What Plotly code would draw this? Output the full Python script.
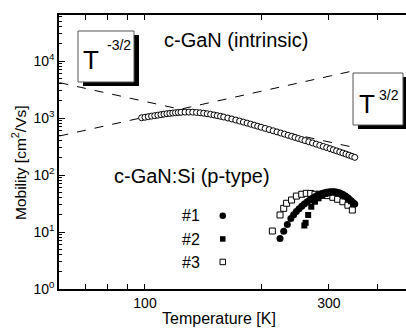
import plotly.graph_objects as go

# ---- data ----
T_int = [98, 100, 102, 104, 106, 108, 110, 112, 114, 116, 118, 120, 122, 124, 127, 130, 133, 136,
         139, 142, 145, 148, 151, 154, 157, 160, 164, 168, 172, 176, 180, 184, 188, 192, 196, 200,
         205, 210, 215, 220, 225, 230, 235, 240, 245, 250, 255, 260, 266, 272, 278, 284, 290, 296,
         302, 308, 314, 320, 326, 332, 338, 344, 350]
mu_int = [1010, 1030, 1055, 1078, 1100, 1122, 1145, 1168, 1188, 1205, 1222, 1238, 1250, 1260, 1268,
          1270, 1265, 1252, 1235, 1213, 1188, 1160, 1130, 1100, 1070, 1040, 1000, 960, 921, 884, 848,
          813, 780, 748, 718, 690, 657, 626, 597, 570, 545, 521, 498, 476, 456, 437, 419, 402, 383,
          365, 348, 332, 317, 303, 290, 277, 265, 254, 243, 233, 223, 213, 204]

T_s1 = [224, 229, 234, 239, 243, 247, 251, 255, 259, 263, 267, 271, 275, 279, 283, 287, 291, 295,
        299, 303, 307, 311, 315, 319, 323, 327, 331, 335, 339, 343, 347, 350]
mu_s1 = [7.7, 10.3, 13.6, 17.2, 20.0, 22.8, 25.5, 28.3, 31.0, 33.6, 36.2, 38.8, 41.2, 43.4, 45.4,
         47.1, 48.5, 49.6, 50.4, 50.8, 50.9, 50.6, 49.8, 48.6, 47.0, 45.0, 42.8, 40.3, 37.7, 35.0,
         32.6, 31.0]

T_s2 = [259, 261, 265, 270, 276, 282, 288, 294, 300, 306, 312, 318, 324, 330, 336, 342, 347]
mu_s2 = [13.0, 14.5, 19.9, 27.8, 34.0, 39.0, 43.0, 46.5, 48.5, 49.5, 49.0, 47.5, 45.0, 42.0, 38.5,
         34.5, 31.0]

T_s3 = [214, 224, 229, 233, 240, 247, 255, 262, 269, 276, 283, 290, 298, 307, 316, 326, 336, 345]
mu_s3 = [10.4, 19.9, 26.0, 31.9, 36.4, 42.7, 45.9, 47.7, 47.5, 45.9, 46.0, 45.9, 43.5, 40.6, 37.5,
         34.0, 29.5, 24.3]

guide_T = [60, 352]
guide_m32 = [4170, 300]
guide_p32 = [483, 6864]

x_tickvals = [100, 300]
x_ticktext = ["100", "300"]
x_minor = [70, 80, 90, 200, 400]
y_tickvals = [1, 10, 100, 1000, 10000]
y_ticktext = ["10<sup>0</sup>", "10<sup>1</sup>", "10<sup>2</sup>", "10<sup>3</sup>", "10<sup>4</sup>"]
y_minor = [m * 10 ** d for d in range(0, 5) for m in range(2, 10)]

FONT = "Arial, Liberation Sans, sans-serif"

# plot area geometry (pixels)
L, R, TOP, BOT = 59, 406, 15, 289
W, H = R - L, BOT - TOP


def px(x):
    return (x - L) / W


def py(y):
    return (BOT - y) / H


fig = go.Figure()
fig.add_trace(go.Scatter(x=guide_T, y=guide_m32, mode="lines",
                         line=dict(color="black", width=1, dash="dash"), showlegend=False))
fig.add_trace(go.Scatter(x=guide_T, y=guide_p32, mode="lines",
                         line=dict(color="black", width=1, dash="dash"), showlegend=False))
fig.add_trace(go.Scatter(x=T_int, y=mu_int, mode="markers",
                         marker=dict(symbol="circle", size=6, color="white",
                                     line=dict(color="black", width=1)), showlegend=False))
fig.add_trace(go.Scatter(x=T_s3, y=mu_s3, mode="markers",
                         marker=dict(symbol="square", size=6, color="white",
                                     line=dict(color="black", width=1)), showlegend=False))
fig.add_trace(go.Scatter(x=T_s2, y=mu_s2, mode="markers",
                         marker=dict(symbol="square", size=6, color="black",
                                     line=dict(color="black", width=0)), showlegend=False))
fig.add_trace(go.Scatter(x=T_s1, y=mu_s1, mode="markers",
                         marker=dict(symbol="circle", size=7, color="black",
                                     line=dict(color="black", width=0)), showlegend=False))

shapes = []
# T^-3/2 box with shadow
shapes.append(dict(type="rect", xref="paper", yref="paper", x0=px(83), x1=px(139), y0=py(86), y1=py(35),
                   fillcolor="black", line=dict(width=0)))
shapes.append(dict(type="rect", xref="paper", yref="paper", x0=px(78), x1=px(134), y0=py(82), y1=py(31),
                   fillcolor="white", line=dict(color="#555", width=1)))
# T^3/2 box with shadow
shapes.append(dict(type="rect", xref="paper", yref="paper", x0=px(358), x1=px(409), y0=py(129), y1=py(77),
                   fillcolor="black", line=dict(width=0)))
shapes.append(dict(type="rect", xref="paper", yref="paper", x0=px(353), x1=px(403), y0=py(125), y1=py(73),
                   fillcolor="white", line=dict(color="#555", width=1)))
# legend symbols
shapes.append(dict(type="circle", xref="paper", yref="paper", x0=px(219.5), x1=px(226), y0=py(219), y1=py(212.5),
                   fillcolor="black", line=dict(width=0)))
shapes.append(dict(type="rect", xref="paper", yref="paper", x0=px(220), x1=px(225.5), y0=py(241.7), y1=py(236.2),
                   fillcolor="black", line=dict(width=0)))
shapes.append(dict(type="rect", xref="paper", yref="paper", x0=px(220), x1=px(225.5), y0=py(264.7), y1=py(259.2),
                   fillcolor="white", line=dict(color="black", width=1)))

annotations = []


def ann(text, x, y, size, xanchor="center"):
    annotations.append(dict(text=text, xref="paper", yref="paper", x=px(x), y=py(y),
                            xanchor=xanchor, yanchor="middle", showarrow=False,
                            font=dict(family=FONT, size=size, color="black")))


ann("c-GaN (intrinsic)", 162, 40, 20, "left")
ann("c-GaN:Si (p-type)", 112, 176, 20, "left")
ann("T", 91, 60, 26)
ann("-3/2", 119, 45, 14)
ann("T", 366.5, 104, 26)
ann("3/2", 388.5, 95, 14)
ann("#1", 191, 216, 16)
ann("#2", 191, 239, 16)
ann("#3", 191, 262, 16)
ann("Temperature [K]", 219, 318, 16)
annotations.append(dict(text="Mobility [cm<sup>2</sup>/Vs]", xref="paper", yref="paper",
                        x=px(19), y=py(163), xanchor="center", yanchor="middle", textangle=-90,
                        showarrow=False, font=dict(family=FONT, size=15.5, color="black")))

fig.update_layout(
    width=406, height=331,
    margin=dict(l=L, r=406 - R, t=TOP, b=331 - BOT),
    paper_bgcolor="white", plot_bgcolor="white",
    font=dict(family=FONT, size=14, color="black"),
    shapes=shapes, annotations=annotations,
    xaxis=dict(type="log", range=[1.777, 2.677], showgrid=False, zeroline=False,
               showline=True, linecolor="black", linewidth=1.5, mirror="ticks",
               ticks="inside", ticklen=5, tickwidth=1.2, tickcolor="black",
               tickmode="array", tickvals=x_tickvals, ticktext=x_ticktext,
               tickfont=dict(family=FONT, size=14),
               minor=dict(ticks="inside", ticklen=5, tickwidth=1.2, tickcolor="black",
                          tickmode="array", tickvals=x_minor)),
    yaxis=dict(type="log", range=[0, 4.807], showgrid=False, zeroline=False,
               showline=True, linecolor="black", linewidth=1.5, mirror=False,
               ticks="inside", ticklen=6, tickwidth=1.2, tickcolor="black",
               tickmode="array", tickvals=y_tickvals, ticktext=y_ticktext,
               tickfont=dict(family=FONT, size=14),
               minor=dict(ticks="inside", ticklen=3, tickwidth=1, tickcolor="black",
                          tickmode="array", tickvals=y_minor)),
)

fig.write_html("out.html")
